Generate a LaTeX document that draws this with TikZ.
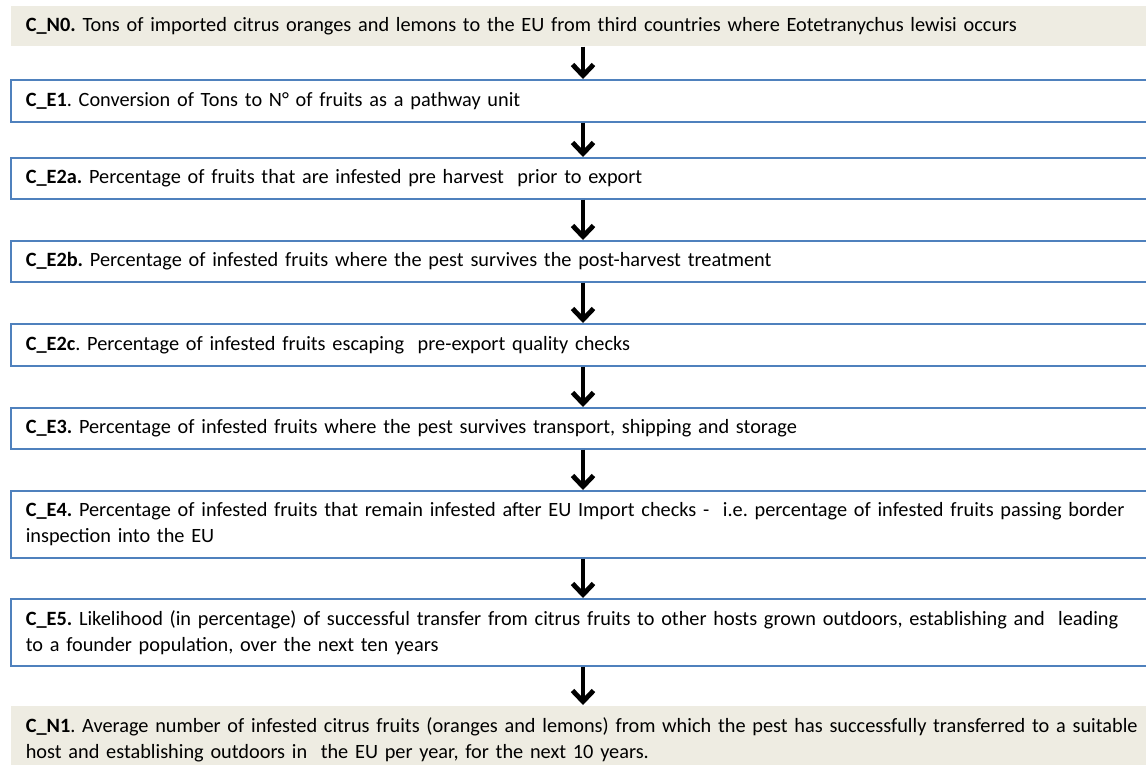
\documentclass[tikz,border=0pt]{standalone}
\usepackage{fontspec}
\setmainfont{Carlito}
\usetikzlibrary{arrows.meta}
\definecolor{stagefill}{RGB}{238,236,226}
\definecolor{stageline}{RGB}{79,129,189}
\tikzset{
  stage/.style={draw=stageline, line width=1.6pt, anchor=north west,
    text width=1150pt, inner xsep=15pt, inner ysep=0pt, align=left,
    font=\fontsize{20.3}{26}\selectfont\frenchspacing},
  endstage/.style={stage, draw=none, fill=stagefill},
  flow/.style={line width=4.8pt, -{Straight Barb[length=11pt,width=21pt]}}
}
\begin{document}
\begin{tikzpicture}[x=1pt, y=-1pt, line cap=butt, line join=miter]
\useasboundingbox (0,0) rectangle (1146,764);
% x of the arrow column
\coordinate (ax) at (583,0);
% stages
\node[endstage, minimum height=40pt] (n0) at (10,5)
  {\textbf{C\_N0.} Tons of imported citrus oranges and lemons to the EU from third countries where Eotetranychus lewisi occurs};
\node[stage, minimum height=42pt] (e1) at (10,79)
  {\textbf{C\_E1}. Conversion of Tons to N° of fruits as a pathway unit};
\node[stage, minimum height=41pt] (e2a) at (10,157)
  {\textbf{C\_E2a.} Percentage of fruits that are infested pre harvest\ \ prior to export};
\node[stage, minimum height=41pt] (e2b) at (10,240)
  {\textbf{C\_E2b.} Percentage of infested fruits where the pest survives the post-harvest treatment};
\node[stage, minimum height=42pt] (e2c) at (10,323)
  {\textbf{C\_E2c}. Percentage of infested fruits escaping\ \ pre-export quality checks};
\node[stage, minimum height=41pt] (e3) at (10,407)
  {\textbf{C\_E3.} Percentage of infested fruits where the pest survives transport, shipping and storage};
\node[stage, minimum height=67pt] (e4) at (10,490)
  {\textbf{C\_E4.} Percentage of infested fruits that remain infested after EU Import checks -\ \ i.e. percentage of infested fruits passing border\\
   inspection into the EU};
\node[stage, minimum height=67pt] (e5) at (10,598)
  {\textbf{C\_E5.} Likelihood (in percentage) of successful transfer from citrus fruits to other hosts grown outdoors, establishing and\ \ leading\\
   to a founder population, over the next ten years};
\node[endstage, minimum height=68pt] (n1) at (10,705)
  {\textbf{C\_N1}. Average number of infested citrus fruits (oranges and lemons) from which the pest has successfully transferred to a suitable\\
   host and establishing outdoors in\ \ the EU per year, for the next 10 years.};
% arrows
\draw[flow] (n0.south -| ax) -- (e1.north -| ax);
\draw[flow] (e1.south -| ax) -- (e2a.north -| ax);
\draw[flow] (e2a.south -| ax) -- (e2b.north -| ax);
\draw[flow] (e2b.south -| ax) -- (e2c.north -| ax);
\draw[flow] (e2c.south -| ax) -- (e3.north -| ax);
\draw[flow] (e3.south -| ax) -- (e4.north -| ax);
\draw[flow] (e4.south -| ax) -- (e5.north -| ax);
\draw[flow] (e5.south -| ax) -- (n1.north -| ax);
\end{tikzpicture}
\end{document}
